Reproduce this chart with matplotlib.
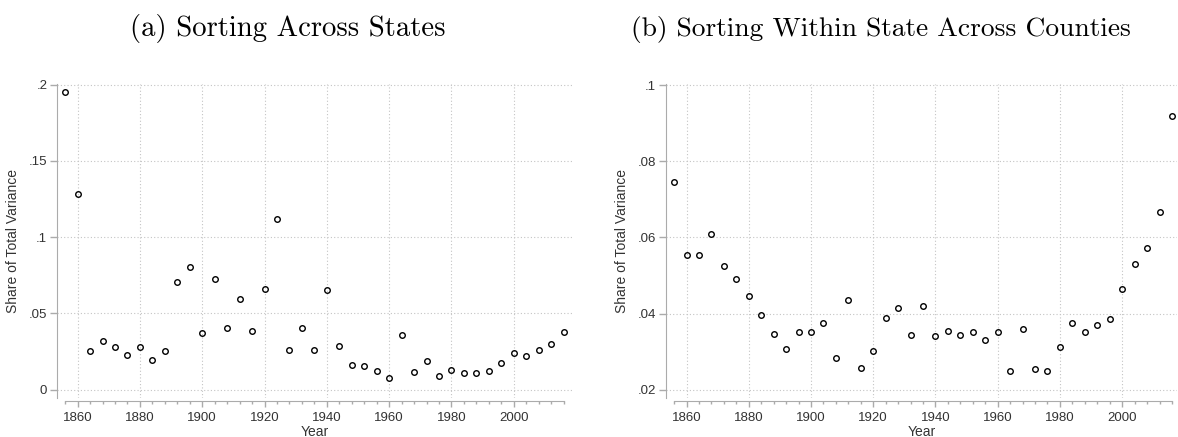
import numpy as np
import matplotlib
matplotlib.use("Agg")
import matplotlib.pyplot as plt
import matplotlib.ticker as mticker

plt.rcParams.update({
    "font.family": "Liberation Sans",
    "font.size": 9,
    "axes.edgecolor": "#ababab",
    "xtick.color": "#ababab",
    "ytick.color": "#ababab",
    "xtick.labelcolor": "#333333",
    "ytick.labelcolor": "#333333",
})

years = np.arange(1856, 2017, 4)

# (a) sorting across states
across_states = [
    0.195, 0.1284, 0.0257, 0.0322, 0.0281, 0.0229, 0.0279, 0.0198, 0.0252, 0.0705,
    0.0807, 0.0372, 0.0727, 0.0403, 0.0592, 0.0385, 0.0659, 0.1119, 0.0261, 0.0405,
    0.0263, 0.0657, 0.0289, 0.0165, 0.0157, 0.0120, 0.0074, 0.0357, 0.0118, 0.0189,
    0.0089, 0.0131, 0.0111, 0.0107, 0.0120, 0.0176, 0.0242, 0.0222, 0.0263, 0.0302,
    0.0376,
]

# (b) sorting within state across counties
within_state = [
    0.0745, 0.0554, 0.0555, 0.0610, 0.0526, 0.0492, 0.0447, 0.0396, 0.0346, 0.0306,
    0.0351, 0.0351, 0.0374, 0.0284, 0.0436, 0.0258, 0.0303, 0.0389, 0.0414, 0.0343,
    0.0419, 0.0341, 0.0354, 0.0344, 0.0351, 0.0331, 0.0351, 0.0249, 0.0360, 0.0255,
    0.0250, 0.0312, 0.0376, 0.0351, 0.0370, 0.0387, 0.0464, 0.0529, 0.0571, 0.0667,
    0.0919,
]

xticks = [1860, 1880, 1900, 1920, 1940, 1960, 1980, 2000]
yticks_a = [0, 0.05, 0.10, 0.15, 0.20]
yticks_b = [0.02, 0.04, 0.06, 0.08, 0.10]

def fmt(v, _):
    s = f"{v:.3f}".rstrip("0").rstrip(".")
    return s[1:] if s.startswith("0.") else s

fig = plt.figure(figsize=(11.78, 4.37), dpi=100)
ax1 = fig.add_axes([0.0484, 0.089, 0.4372, 0.719])
ax2 = fig.add_axes([0.5651, 0.089, 0.4340, 0.719])

panels = [
    (ax1, across_states, yticks_a, (-0.0055, 0.2005), (1853.4, 2018.7)),
    (ax2, within_state, yticks_b, (0.0178, 0.1003), (1853.3, 2017.6)),
]

for ax, vals, yt, ylim, xlim in panels:
    ax.plot(years, vals, "o", ms=4, mfc="none", mec="black", mew=1.0, zorder=3, clip_on=False)
    ax.set_xlim(*xlim)
    ax.set_ylim(*ylim)
    ax.set_xticks(xticks)
    ax.set_xticks(years, minor=True)
    ax.set_yticks(yt)
    ax.yaxis.set_major_formatter(mticker.FuncFormatter(fmt))
    ax.grid(True, which="major", color="#c4c4c4", linestyle=(0, (1, 2)), linewidth=0.8)
    for s in ("top", "right"):
        ax.spines[s].set_visible(False)
    ax.spines["bottom"].set_position(("outward", 2))
    ax.spines["bottom"].set_bounds(1856, 2016)
    ax.tick_params(axis="x", which="major", length=4.5, width=1, labelsize=9.5, pad=3.5)
    ax.tick_params(axis="x", which="minor", length=2.5, width=1)
    ax.tick_params(axis="y", length=5, width=1, labelsize=9.5, pad=2)
    ax.set_ylabel("Share of Total Variance", fontsize=10, color="#333333", labelpad=6)
    ax.set_xlabel("Year", fontsize=10, color="#333333", labelpad=0.5)

fig.text(0.244, 1 - 36 / 437, "(a) Sorting Across States", fontfamily="cmr10",
         fontsize=20.7, ha="center", va="baseline")
fig.text(0.748, 1 - 36 / 437, "(b) Sorting Within State Across Counties", fontfamily="cmr10",
         fontsize=19.8, ha="center", va="baseline")

fig.savefig("out.png", dpi=100)
